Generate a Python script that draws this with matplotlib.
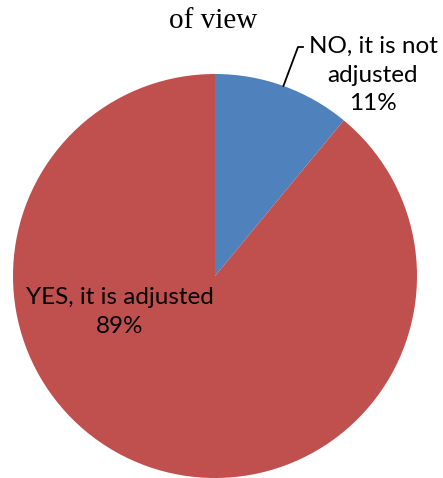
import matplotlib
matplotlib.use("Agg")
import matplotlib.pyplot as plt
import numpy as np

categories = ["NO, it is not\nadjusted", "YES, it is adjusted"]
values = [11, 89]
colors = ["#4F81BD", "#C0504D"]
title = "of view"

W, H = 443, 478
fig = plt.figure(figsize=(W / 100, H / 100), dpi=100)
ax = fig.add_axes([0, 0, 1, 1])

cx, cy, r = 215, H - 276, 202
wedges, _ = ax.pie(values, colors=colors, startangle=90, counterclock=False,
                   center=(cx, cy), radius=r, frame=True,
                   wedgeprops=dict(linewidth=0))
ax.set_xlim(0, W)
ax.set_ylim(0, H)
ax.set_aspect("equal")
ax.axis("off")

lab_font = dict(family="Lato", fontsize=17.5, color="black")

# NO label with leader line
ang = np.deg2rad(90 - values[0] / sum(values) * 360 / 2)
px, py = cx + r * np.cos(ang), cy + r * np.sin(ang)
ax.plot([px, 298, 303], [py, H - 47, H - 47], color="black", lw=1.3)
ax.text(373, H - 75, f"{categories[0]}\n{values[0]}%", ha="center", va="center",
        linespacing=1.45, **lab_font)

# YES label inside
ax.text(120, H - 312, f"{categories[1]}\n{values[1]}%", ha="center", va="center",
        linespacing=1.45, **lab_font)

ax.text(213, H - 21, title, ha="center", va="center", family="Liberation Serif",
        fontsize=21)

fig.savefig("out.png", dpi=100)
